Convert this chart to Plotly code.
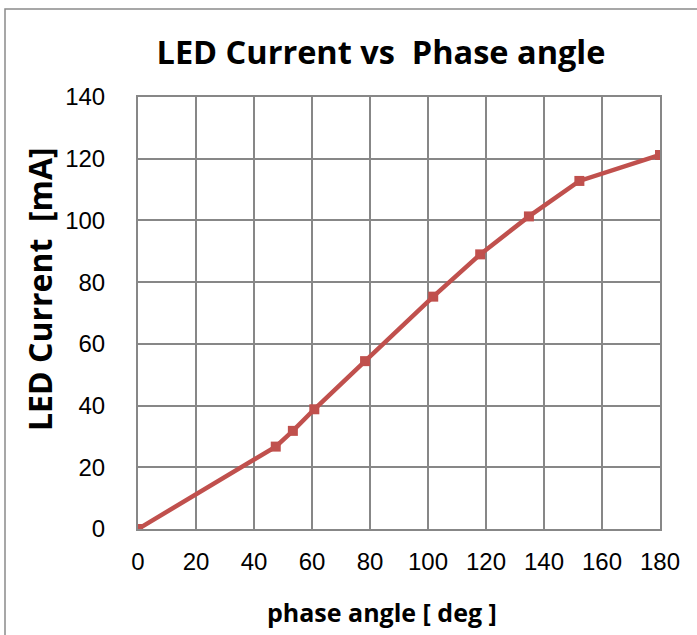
import plotly.graph_objects as go

phase_deg = [0, 47.5, 53.4, 60.8, 78.3, 101.8, 118, 134.8, 152.2, 180]
led_ma = [0, 26.7, 31.8, 38.8, 54.4, 75.3, 89.0, 101.3, 112.8, 121.2]

x_ticks = [0, 20, 40, 60, 80, 100, 120, 140, 160, 180]
y_ticks = [0, 20, 40, 60, 80, 100, 120, 140]

red = "#C0504D"
grid = "#878787"
tickfont = dict(family="Liberation Sans, Arial, sans-serif", size=24, color="black")
boldfont = "Open Sans, Lato, sans-serif"

W, H = 697, 635
L, R, T, B = 138, 37, 97, 106
pw, ph = W - L - R, H - T - B

fig = go.Figure()
fig.add_trace(go.Scatter(
    x=phase_deg, y=led_ma, mode="lines+markers",
    line=dict(color=red, width=4.5),
    marker=dict(symbol="square", size=10, color=red),
    showlegend=False,
))

fig.update_layout(
    width=W, height=H,
    margin=dict(l=L, r=R, t=T, b=B),
    paper_bgcolor="white", plot_bgcolor="white",
    title=dict(text="<b>LED Current vs  Phase angle</b>", x=381 / W, xanchor="center",
               y=1 - 53 / H, yanchor="middle",
               font=dict(family=boldfont, size=32.5, color="black")),
    xaxis=dict(range=[0, 180], tickvals=x_ticks, ticktext=[str(v) for v in x_ticks],
               showgrid=True, gridcolor=grid, gridwidth=2,
               showline=True, linecolor=grid, linewidth=2, mirror=True,
               zeroline=False, ticks="", tickfont=tickfont, ticklabelstandoff=10),
    yaxis=dict(range=[0, 140], tickvals=y_ticks, ticktext=[str(v) for v in y_ticks],
               showgrid=True, gridcolor=grid, gridwidth=2,
               showline=True, linecolor=grid, linewidth=2, mirror=True,
               zeroline=False, ticks="", tickfont=tickfont, ticklabelstandoff=26),
    annotations=[
        dict(text="<b>phase angle [ deg ]</b>", xref="paper", yref="paper",
             x=(382 - L) / pw, y=-(612 - (T + ph)) / ph, xanchor="center", yanchor="middle",
             showarrow=False, font=dict(family=boldfont, size=25, color="black")),
        dict(text="<b>LED Current  [mA]</b>", xref="paper", yref="paper", textangle=-90,
             x=(39 - L) / pw, y=((T + ph) - 289) / ph, xanchor="center", yanchor="middle",
             showarrow=False, font=dict(family=boldfont, size=32, color="black")),
    ],
    shapes=[dict(type="rect", xref="paper", yref="paper",
                 x0=(5 - L) / pw, x1=(W + 20 - L) / pw,
                 y0=-(B + 20) / ph, y1=(T + ph - 9) / ph,
                 line=dict(color="#8a8a8a", width=1.5), fillcolor="rgba(0,0,0,0)",
                 layer="below")],
)

fig.write_html("out.html", config={"displayModeBar": False},
               post_script="document.body.style.margin='0px';")
